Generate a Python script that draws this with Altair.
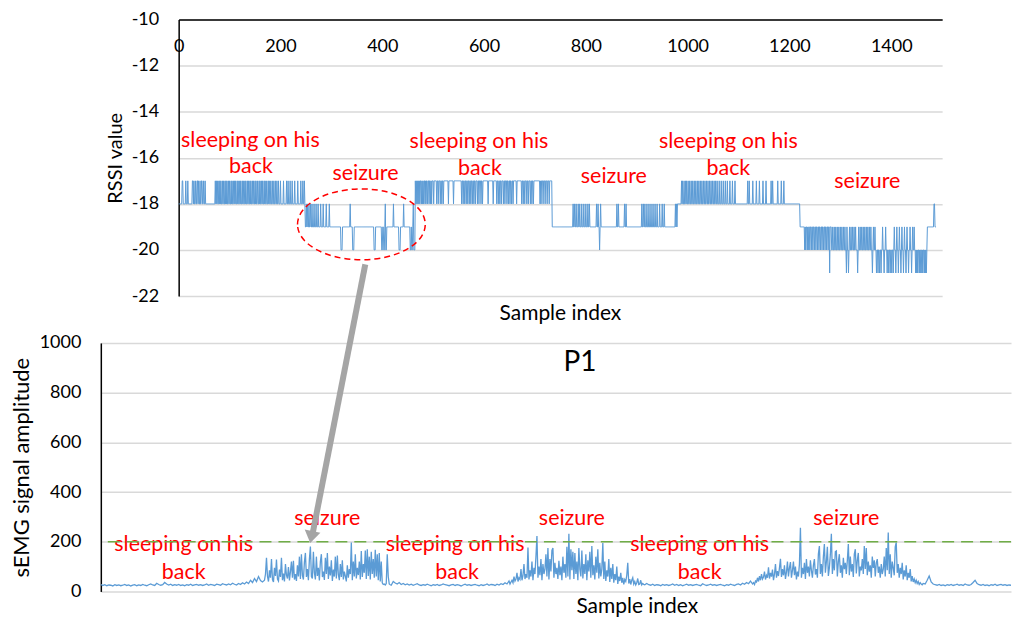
import altair as alt
import pandas as pd

FONT = "Lato"
BLUE = "#5B9BD5"
RED = "#FF0000"
GRID = "#D9D9D9"
PLAIN = "'' + datum.value"

# ---------------- top panel: RSSI ----------------
rssi_len = 1489
# (start, end, baseline value)
rssi_segments = [(0, 249, -18), (249, 465, -19), (465, 734, -17), (734, 980, -19),
                 (980, 1221, -18), (1221, 1282, -19), (1282, 1471, -20), (1471, 1489, -19)]
rssi_m17 = [7, 8, 14, 18, 27, 28, 30, 33, 36, 37, 39, 42, 45, 46, 49, 52,
            72, 74, 76, 79, 81, 83, 86, 88, 91, 93, 95, 98, 100, 103, 105, 108, 110, 112,
            115, 117, 120, 122, 125, 127, 130, 132, 135, 137, 140, 142, 145, 147, 150, 152,
            155, 158, 160, 163, 165, 168, 170, 173, 176, 178, 181, 184, 187, 190, 193, 196,
            200, 206, 212, 215, 219, 223, 228, 234, 240, 244, 247,
            988, 990, 993, 996, 998, 1001, 1004, 1007, 1010, 1013, 1016, 1019, 1022, 1025,
            1028, 1031, 1034, 1037, 1040, 1043, 1046, 1049, 1052, 1055, 1058, 1062, 1066,
            1070, 1074, 1078, 1083, 1088, 1093, 1118, 1121, 1128, 1135, 1141, 1148, 1154,
            1164, 1167, 1177, 1184, 1189]
rssi_m18 = [251, 253, 256, 259, 262, 266, 270, 274, 279, 284, 290, 296, 337, 406, 422, 442, 461,
            466, 468, 470, 472, 474, 477, 479, 481, 484, 486, 489, 492, 495, 497, 501, 507, 510,
            514, 517, 520, 530, 540, 556, 559, 562, 565, 568, 571, 574, 577, 580, 583, 587, 590,
            594, 597, 608, 618, 625, 628, 631, 634, 638, 641, 645, 648, 651, 654, 657, 664, 674,
            677, 680, 684, 687, 691, 694, 697, 710, 712, 716, 720, 724, 728,
            775, 778, 781, 785, 788, 792, 796, 800, 804, 807, 821, 824, 829, 861, 864, 876, 879,
            910, 913, 916, 920, 924, 928, 932, 936, 940, 945, 950, 954, 976, 978, 1484, 1485]
rssi_m20 = [319, 320, 321, 342, 343, 344, 384, 385, 386, 399, 400, 403, 404, 407, 408,
            433, 434, 435, 455, 456, 458, 459, 462, 463, 464, 827,
            1230, 1232, 1235, 1237, 1240, 1243, 1246, 1249, 1252, 1255, 1258, 1261, 1264,
            1267, 1270, 1273, 1276]
rssi_m19 = [1282, 1285, 1288, 1291, 1294, 1297, 1300, 1303, 1306, 1309, 1313, 1318, 1321,
            1324, 1327, 1330, 1336, 1339, 1342, 1345, 1348, 1351, 1354, 1357, 1360, 1365,
            1368, 1383, 1389, 1406, 1411, 1416, 1421, 1426, 1431, 1437, 1442, 1445]
rssi_m21 = [1279, 1312, 1316, 1334, 1363, 1371, 1374, 1377, 1380, 1386, 1392, 1395, 1398,
            1401, 1404, 1409, 1414, 1419, 1424, 1429, 1434, 1440, 1448, 1450, 1452, 1455,
            1457, 1460, 1462, 1465, 1467, 1469]

rssi = [0] * rssi_len
for s, e, b in rssi_segments:
    for i in range(s, e):
        rssi[i] = b
for val, lst in [(-17, rssi_m17), (-18, rssi_m18), (-20, rssi_m20), (-19, rssi_m19), (-21, rssi_m21)]:
    for i in lst:
        rssi[i] = val
top_df = pd.DataFrame({"x": list(range(rssi_len)), "y": rssi})

top_labels = ["sleeping on his", "back", "seizure", "sleeping on his", "back", "seizure",
              "sleeping on his", "back", "seizure"]
top_lab_x = [141, 142, 367, 590, 592, 855, 1080, 1080, 1353]
top_lab_y = [-15.25, -16.41, -16.71, -15.33, -16.49, -16.84, -15.33, -16.49, -17.05]
top_text_df = pd.DataFrame({"x": top_lab_x, "y": top_lab_y, "t": top_labels})
ellipse_df = pd.DataFrame({"x": [359], "y": [-18.89]})

# ---------------- bottom panel: sEMG ----------------
semg_sleep1 = [28, 24, 27, 23, 26, 25, 22, 27, 24, 26,
               23, 25, 28, 24, 26, 22, 25, 27, 23, 26,
               24, 28, 25, 23, 27, 30, 26, 24, 33, 28,
               25, 27, 36, 30, 26, 29, 24, 27, 25, 28,
               24, 26, 23, 27, 25, 29, 24, 26, 28, 25,
               27, 24, 26, 30, 25, 28, 26, 24, 29, 27,
               25, 31, 28, 26, 30, 27, 33, 29, 26, 32,
               28, 35, 30, 38, 32, 45, 36, 52, 40, 60,
               44, 38]
semg_burst1 = [45, 70, 135, 60, 40, 85, 55, 130, 48, 38, 95, 62, 128, 50, 42, 88,
               58, 135, 45, 72, 40, 110, 66, 52, 98, 44, 80, 120, 55, 123, 48, 70,
               42, 105, 60, 140, 50, 150, 65, 48, 118, 155, 58, 90, 45, 130, 181, 60,
               52, 160, 75, 48, 140, 62, 95, 44, 120, 150, 58, 80, 46, 135, 70, 155,
               50, 100, 64, 125, 42, 88, 60, 140, 52, 145, 68, 45, 110, 58, 125, 48,
               80, 62, 40, 105, 55, 90, 70, 197, 45, 120, 60, 150, 52, 95, 66, 120,
               48, 163, 58, 110, 75, 165, 50, 170, 62, 140, 48, 160, 70, 130, 55, 168,
               60, 150, 45, 155, 40, 120, 35, 28, 30, 26, 32, 150, 60, 30, 27, 25]
semg_sleep2 = [40, 34, 30, 36, 28, 32, 27, 30, 26, 29,
               25, 28, 31, 26, 24, 27, 25, 29, 26, 23,
               27, 25, 28, 24, 26, 30, 27, 25, 23, 26,
               28, 24, 27, 25, 22, 26, 29, 25, 27, 24,
               26, 28, 25, 23, 27, 24, 26, 30, 25, 28,
               27, 24, 29, 26, 31, 28, 35, 30, 42]
semg_burst2 = [30, 38, 45, 35, 60, 42, 50, 75, 40, 55, 48, 90, 45, 65, 110, 50,
               70, 55, 177, 48, 85, 60, 120, 45, 95, 70, 140, 223, 55, 100, 65, 130,
               45, 110, 70, 90, 150, 60, 175, 48, 130, 80, 165, 175, 55, 115, 70, 95,
               50, 123, 65, 100, 45, 140, 75, 110, 55, 180, 60, 232, 48, 170, 85, 160,
               50, 155, 70, 120, 45, 175, 90, 60, 165, 52, 110, 70, 150, 45, 125, 80,
               160, 55, 183, 65, 105, 48, 140, 75, 170, 52, 115, 60, 90, 195, 50, 120,
               42, 85, 60, 130, 38, 95, 50, 110, 35, 70, 45, 100, 30, 60, 42, 75,
               35, 55, 28, 48, 40, 65, 115, 32, 50, 28, 45, 55, 30, 40, 26, 35,
               52, 28, 30, 45, 26, 32, 28, 27]
semg_sleep3 = [32, 27, 25, 29, 24, 27, 26, 23, 28, 25,
               27, 24, 26, 30, 25, 28, 24, 27, 23, 26,
               29, 25, 27, 24, 26, 28, 25, 23, 31, 27,
               24, 26, 29, 25, 27, 24, 26, 28, 25, 23,
               27, 25, 29, 26, 24, 28, 30, 26, 33, 29,
               36, 31, 42]
semg_burst3 = [30, 35, 28, 42, 38, 55, 40, 62, 45, 70, 50, 58, 80, 48, 65, 55,
               97, 52, 75, 60, 88, 45, 70, 110, 55, 82, 62, 95, 131, 58, 90, 65,
               105, 50, 78, 120, 60, 95, 118, 55, 85, 120, 65, 100, 48, 80, 60, 110,
               256, 55, 95, 70, 115, 50, 130, 75, 100, 60, 125, 85, 55, 105, 130, 68,
               90, 55, 150, 183, 70, 110, 60, 140, 191, 75, 120, 180, 62, 95, 150, 232,
               70, 130, 85, 160, 163, 60, 120, 150, 75, 105, 55, 135, 90, 115, 70, 125,
               191, 65, 140, 80, 110, 58, 150, 170, 72, 125, 155, 60, 100, 85, 130, 70,
               183, 90, 175, 65, 120, 80, 105, 55, 140, 95, 125, 60, 115, 130, 75, 100,
               55, 110, 70, 90, 140, 60, 175, 85, 237, 70, 150, 55, 120, 95, 65, 180,
               197, 75, 110, 55, 95, 70, 115, 48, 85, 60, 105, 45, 75, 55, 90, 40,
               62, 38, 50, 35, 45, 32, 40, 28, 35, 30, 27, 32]
semg_post = [30, 45, 62, 38, 30, 27, 25, 28, 24, 26,
             23, 27, 25, 28, 24, 26, 29, 25, 27, 24,
             30, 26, 25, 28, 36, 45, 32, 27, 25, 28,
             24, 26, 23, 27, 25, 29, 24, 26, 28, 25,
             27, 24, 26, 25]
# each segment: first sample index, sample step, amplitudes
semg_segments = [(0, 4, semg_sleep1), (328, 2, semg_burst1), (586, 4, semg_sleep2),
                 (820, 2, semg_burst2), (1094, 4, semg_sleep3), (1306, 2, semg_burst3),
                 (1652, 4, semg_post)]
bx, by = [], []
for start, step, vals in semg_segments:
    for k, v in enumerate(vals):
        bx.append(start + step * k)
        by.append(v)
bot_df = pd.DataFrame({"x": bx, "y": by})

bot_labels = ["sleeping on his", "back", "seizure", "sleeping on his", "back", "seizure",
              "sleeping on his", "back", "seizure"]
bot_lab_x = [166, 166, 454, 710, 714, 944, 1200, 1200, 1494]
bot_lab_y = [187, 75, 292, 187, 75, 292, 187, 75, 292]
bot_text_df = pd.DataFrame({"x": bot_lab_x, "y": bot_lab_y, "t": bot_labels})
threshold_df = pd.DataFrame({"y": [200]})
p1_df = pd.DataFrame({"x": [960], "y": [918], "t": ["P1"]})
arrow_df = pd.DataFrame({"x": [530], "y": [1316], "x2": [424], "y2": [228]})
head_df = pd.DataFrame({"x": [422], "y": [219]})
spacer_df = pd.DataFrame({"x": [0]})

# ---------------- encodings ----------------
xs_top = alt.Scale(domain=[0, 1500], nice=False, zero=False)
ys_top = alt.Scale(domain=[-22, -10], nice=False, zero=False)
X_TOP = alt.X("x:Q", scale=xs_top,
              axis=alt.Axis(orient="top", values=[0, 200, 400, 600, 800, 1000, 1200, 1400],
                            title=None, grid=False, ticks=False, tickSize=0, labelPadding=-27,
                            labelBaseline="middle", labelFlush=False, labelFontSize=18,
                            labelExpr=PLAIN, domainColor="black", domainWidth=1.5))
Y_TOP = alt.Y("y:Q", scale=ys_top,
              axis=alt.Axis(values=[-22, -20, -18, -16, -14, -12, -10], title="RSSI value",
                            grid=True, gridColor=GRID, gridWidth=1.5, ticks=False,
                            labelExpr=PLAIN, domainColor="black", domainWidth=1.5,
                            labelPadding=20, labelFontSize=18, titleFontSize=20,
                            titlePadding=6))

xs_bot = alt.Scale(domain=[0, 1824], nice=False, zero=False)
ys_bot = alt.Scale(domain=[0, 1000], nice=False)
X_BOT = alt.X("x:Q", scale=xs_bot,
              axis=alt.Axis(title="Sample index", labels=False, ticks=False, domain=False,
                            grid=False, titleFontSize=21, titleX=537, titleY=15,
                            titleBaseline="middle"))
Y_BOT = alt.Y("y:Q", scale=ys_bot,
              axis=alt.Axis(values=[0, 200, 400, 600, 800, 1000], title="sEMG signal amplitude",
                            grid=True, gridColor=GRID, gridWidth=1.5, ticks=False,
                            labelExpr=PLAIN, domainColor="black", domainWidth=1.5,
                            labelPadding=20, labelFontSize=18, titleFontSize=22,
                            titlePadding=6))

# ---------------- charts ----------------
top_line = alt.Chart(top_df).mark_line(color=BLUE, strokeWidth=1).encode(x=X_TOP, y=Y_TOP)
top_text = alt.Chart(top_text_df).mark_text(color=RED, fontSize=21.5, font=FONT).encode(
    x=X_TOP, y=Y_TOP, text="t:N")
ellipse = alt.Chart(ellipse_df).mark_point(
    shape="M-1,0A1,0.555 0 1,1 1,0A1,0.555 0 1,1 -1,0Z", size=16384, filled=False,
    stroke=RED, strokeWidth=1.5, strokeDash=[6, 4], opacity=1).encode(x=X_TOP, y=Y_TOP)

top = alt.layer(top_line, top_text, ellipse).properties(
    width=765, height=277,
    title=alt.TitleParams("Sample index", orient="bottom", frame="group", fontSize=21,
                          font=FONT, fontWeight="normal", color="black", offset=-2))

spacer = alt.Chart(spacer_df).mark_point(opacity=0).encode(
    x=alt.X("x:Q", axis=None), y=alt.Y("x:Q", axis=None)).properties(width=1, height=277)

bot_line = alt.Chart(bot_df).mark_line(color=BLUE, strokeWidth=1.3).encode(x=X_BOT, y=Y_BOT)
bot_text = alt.Chart(bot_text_df).mark_text(color=RED, fontSize=21.5, font=FONT).encode(
    x=X_BOT, y=Y_BOT, text="t:N")
threshold = alt.Chart(threshold_df).mark_rule(color="#70AD47", strokeWidth=1.5,
                                              strokeDash=[12, 7]).encode(y=Y_BOT)
p1 = alt.Chart(p1_df).mark_text(color="black", fontSize=28, font=FONT).encode(
    x=X_BOT, y=Y_BOT, text="t:N")
arrow = alt.Chart(arrow_df).mark_rule(color="#A5A5A5", strokeWidth=6, clip=False).encode(
    x=X_BOT, y=Y_BOT, x2="x2:Q", y2="y2:Q")
head = alt.Chart(head_df).mark_point(
    shape="M-1,-0.75L1,-0.75L0,0.75Z", size=256, filled=True, fill="#A5A5A5",
    strokeWidth=0, opacity=1, angle=11, clip=False).encode(x=X_BOT, y=Y_BOT)

bottom = alt.layer(bot_line, bot_text, threshold, p1, arrow, head).properties(width=912, height=249)

chart = alt.vconcat(alt.hconcat(spacer, top, spacing=0), bottom, spacing=-63).properties(
    padding={"left": 2, "top": 2, "right": 0, "bottom": 0}).configure(
    font=FONT, background="white").configure_view(stroke=None).configure_axis(
    labelColor="black", titleColor="black", labelFont=FONT, titleFont=FONT,
    titleFontWeight="normal")

chart.save("out.html", embed_options={"renderer": "svg", "actions": False})
